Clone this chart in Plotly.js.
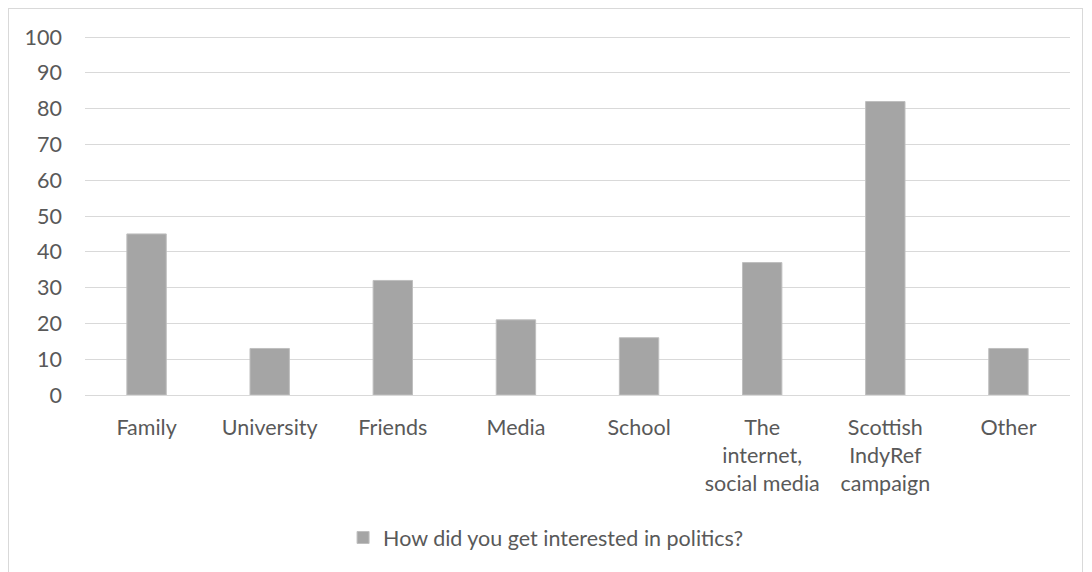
<!DOCTYPE html>
<html>
<head>
<meta charset="utf-8">
<script src="https://cdn.plot.ly/plotly-3.0.1.min.js"></script>
<style>
html,body{margin:0;padding:0;background:#fff;overflow:hidden;}
#frame{position:absolute;left:8px;top:8px;width:1075px;height:600px;border:1px solid #d9d9d9;box-sizing:border-box;}
#chart{position:absolute;left:0;top:0;width:1092px;height:572px;}
</style>
</head>
<body>
<div id="frame"></div>
<div id="chart"></div>
<script>
const categories = ["Family","University","Friends","Media","School","The<br>internet,<br>social media","Scottish<br>IndyRef<br>campaign","Other"];
const values = [45,13,32,21,16,37,82,13];
const seriesName = "How did you get interested in politics?";
const yTicks = [0,10,20,30,40,50,60,70,80,90,100];

const font = {family:"Lato, Open Sans, sans-serif", size:21.5, color:"#595959"};

Plotly.newPlot("chart", [{
  type:"bar",
  x:categories,
  y:values,
  name:seriesName,
  marker:{color:"#a5a5a5", line:{color:"#bfbfbf", width:1}},
  showlegend:true
}], {
  width:1092, height:572,
  paper_bgcolor:"rgba(0,0,0,0)",
  plot_bgcolor:"rgba(0,0,0,0)",
  margin:{l:85, r:22, t:36, b:177},
  bargap:0.68,
  font:font,
  xaxis:{
    type:"category",
    showgrid:false,
    showline:true, linecolor:"#d9d9d9", linewidth:1,
    ticks:"", ticklabelstandoff:13,
    tickfont:font
  },
  yaxis:{
    range:[0,100.3],
    tickvals:yTicks,
    showgrid:true, gridcolor:"#d9d9d9", gridwidth:1,
    zeroline:false, showline:false,
    ticks:"", ticklabelstandoff:22,
    tickfont:font
  },
  legend:{
    orientation:"h", x:0.262, xanchor:"left", y:-0.397, yanchor:"middle",
    font:font, itemwidth:30
  }
}, {displayModeBar:false, staticPlot:true});
</script>
</body>
</html>
